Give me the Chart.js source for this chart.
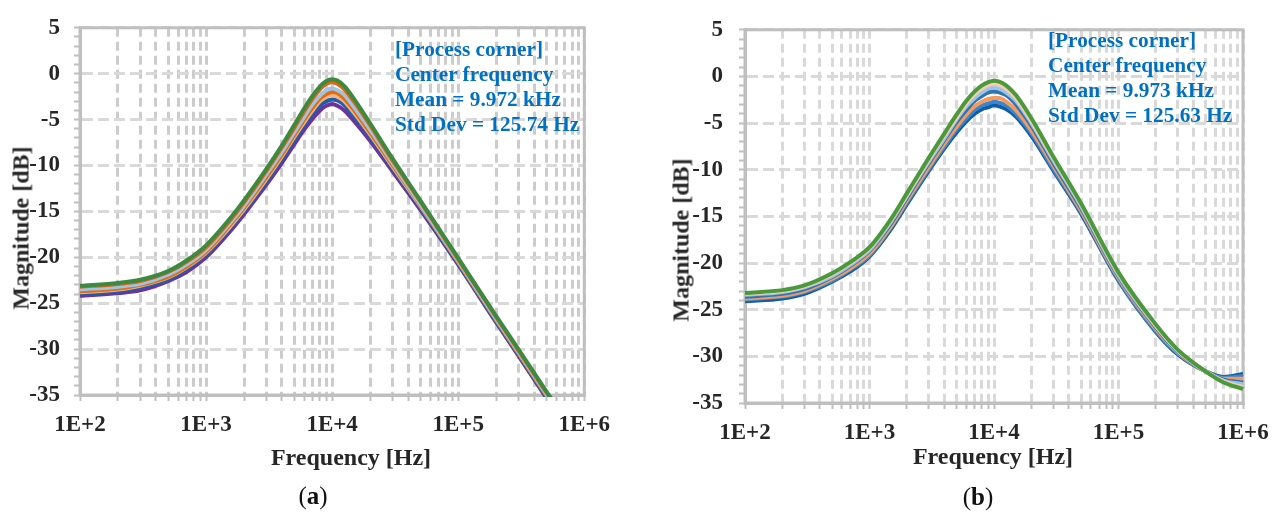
<!DOCTYPE html>
<html>
<head>
<meta charset="utf-8">
<script src="https://cdn.jsdelivr.net/npm/chart.js@4.4.0/dist/chart.umd.min.js"></script>
<style>
  body { margin: 0; background: #fff; width: 1280px; height: 515px; position: relative; overflow: hidden; font-family: 'Liberation Serif', 'Times New Roman', serif; }
  canvas { position: absolute; }
  .note { position: absolute; color: #0070c0; font-weight: bold; font-size: 21.3px; line-height: 25px; white-space: nowrap; }
  .axis-title { position: absolute; font-weight: bold; font-size: 24px; color: #262626; white-space: nowrap; transform: translate(-50%, -50%); }
  .axis-title.vertical { transform: translate(-50%, -50%) rotate(-90deg); }
  .caption { position: absolute; font-size: 25px; color: #111; transform: translate(-50%, -50%); }
</style>
</head>
<body>
<canvas id="chart-a" width="620" height="445" style="left:0;top:0"></canvas>
<canvas id="chart-b" width="630" height="450" style="left:650px;top:0"></canvas>

<div class="note" style="left:395px;top:37px">[Process corner]<br>Center frequency<br>Mean = 9.972 kHz<br>Std Dev = 125.74 Hz</div>
<div class="note" style="left:1048px;top:28px">[Process corner]<br>Center frequency<br>Mean = 9.973 kHz<br>Std Dev = 125.63 Hz</div>

<div class="axis-title vertical" style="left:21px;top:228px">Magnitude [dB]</div>
<div class="axis-title" style="left:351px;top:457px">Frequency [Hz]</div>
<div class="axis-title vertical" style="left:681px;top:240px">Magnitude [dB]</div>
<div class="axis-title" style="left:993px;top:456px">Frequency [Hz]</div>

<div class="caption" style="left:313px;top:496px">(<b>a</b>)</div>
<div class="caption" style="left:978px;top:497px">(<b>b</b>)</div>

<script>
// sweep frequencies (Hz)
const freqHz = [100, 200, 300, 500, 700, 1000, 1500, 2000, 3000, 4000, 5000, 6000, 7000, 8000, 9000,
  10000, 11000, 12500, 15000, 20000, 30000, 50000, 100000, 200000, 300000, 500000, 700000, 1000000];

// axis ticks
const decadeHz = [100, 1000, 10000, 100000, 1000000];
const decadeLabels = ['1E+2', '1E+3', '1E+4', '1E+5', '1E+6'];
const magLabels = [5, 0, -5, -10, -15, -20, -25, -30, -35];

// (a) process corners, magnitude in dB
const magA1 = [-23.1, -22.8, -22.45, -21.5, -20.35, -18.7, -16.0, -13.8, -10.4, -7.8, -5.6, -3.8, -2.4, -1.4, -0.8, -0.6, -0.75, -1.35, -2.8, -5.4, -9.2, -13.8, -20.1, -26.4, -30.0, -34.6, -37.5, -40.6];
const magA2 = [-23.2, -22.9, -22.6, -21.6, -20.5, -18.9, -16.2, -14.0, -10.6, -8.0, -5.9, -4.1, -2.7, -1.7, -1.1, -0.9, -1.1, -1.7, -3.1, -5.6, -9.4, -13.9, -20.2, -26.5, -30.1, -34.7, -37.6, -40.7];
const magA3 = [-23.5, -23.2, -22.9, -21.9, -20.8, -19.2, -16.5, -14.4, -11.0, -8.5, -6.4, -4.7, -3.3, -2.4, -1.8, -1.6, -1.8, -2.3, -3.7, -6.1, -9.7, -14.2, -20.4, -26.7, -30.3, -34.9, -37.8, -40.9];
const magA4 = [-23.7, -23.4, -23.0, -22.1, -21.0, -19.4, -16.7, -14.6, -11.3, -8.8, -6.7, -5.0, -3.7, -2.7, -2.2, -2.0, -2.1, -2.7, -4.0, -6.4, -9.9, -14.3, -20.5, -26.8, -30.4, -35.0, -37.9, -41.0];
const magA5 = [-23.8, -23.5, -23.1, -22.2, -21.1, -19.5, -16.9, -14.8, -11.5, -9.0, -6.9, -5.3, -4.0, -3.0, -2.5, -2.3, -2.5, -3.0, -4.3, -6.6, -10.1, -14.4, -20.5, -26.8, -30.4, -35.0, -37.9, -41.0];
const magA6 = [-24.0, -23.7, -23.3, -22.4, -21.3, -19.7, -17.1, -15.0, -11.8, -9.3, -7.3, -5.6, -4.4, -3.5, -3.0, -2.8, -2.9, -3.4, -4.7, -6.9, -10.3, -14.6, -20.7, -27.0, -30.6, -35.2, -38.1, -41.2];
const magA7 = [-24.2, -23.9, -23.6, -22.6, -21.6, -20.0, -17.4, -15.3, -12.1, -9.7, -7.7, -6.1, -4.9, -4.0, -3.5, -3.3, -3.5, -4.0, -5.2, -7.3, -10.6, -14.8, -20.8, -27.1, -30.7, -35.3, -38.2, -41.3];

// (b) process corners, magnitude in dB
const magB1 = [-23.2, -22.9, -22.4, -21.1, -19.9, -18.3, -15.2, -12.5, -8.7, -6.1, -4.1, -2.6, -1.6, -0.95, -0.6, -0.45, -0.55, -0.95, -2.0, -4.5, -8.6, -13.6, -21.0, -26.6, -29.3, -31.6, -32.8, -33.5];
const magB2 = [-23.3, -23.0, -22.5, -21.2, -20.0, -18.4, -15.3, -12.7, -8.9, -6.3, -4.4, -2.9, -1.9, -1.3, -0.9, -0.8, -0.9, -1.3, -2.3, -4.8, -8.8, -13.7, -21.1, -26.7, -29.4, -31.6, -32.7, -33.3];
const magB3 = [-23.4, -23.1, -22.6, -21.4, -20.2, -18.6, -15.5, -12.8, -9.1, -6.6, -4.6, -3.2, -2.3, -1.7, -1.3, -1.2, -1.3, -1.7, -2.6, -5.0, -9.0, -13.9, -21.3, -26.8, -29.4, -31.6, -32.6, -33.0];
const magB4 = [-23.6, -23.3, -22.8, -21.5, -20.3, -18.7, -15.7, -13.0, -9.3, -6.8, -4.9, -3.6, -2.6, -2.1, -1.7, -1.6, -1.7, -2.0, -3.0, -5.3, -9.3, -14.1, -21.4, -26.9, -29.5, -31.6, -32.5, -32.8];
const magB5 = [-23.8, -23.5, -23.0, -21.7, -20.6, -19.0, -16.0, -13.3, -9.7, -7.2, -5.4, -4.1, -3.2, -2.7, -2.4, -2.3, -2.3, -2.7, -3.6, -5.8, -9.6, -14.4, -21.6, -27.1, -29.6, -31.6, -32.4, -32.4];
const magB6 = [-23.9, -23.6, -23.1, -21.9, -20.7, -19.2, -16.1, -13.5, -9.9, -7.5, -5.7, -4.5, -3.6, -3.1, -2.9, -2.7, -2.8, -3.1, -4.0, -6.1, -9.9, -14.5, -21.8, -27.3, -29.7, -31.6, -32.3, -32.1];
const magB7 = [-24.1, -23.8, -23.3, -22.0, -20.9, -19.3, -16.3, -13.7, -10.1, -7.7, -6.0, -4.8, -4.0, -3.5, -3.3, -3.1, -3.2, -3.5, -4.3, -6.4, -10.1, -14.7, -21.9, -27.4, -29.8, -31.6, -32.2, -31.9];

document.addEventListener('DOMContentLoaded', () => {
    Chart.defaults.font.family = "'Liberation Serif', 'Times New Roman', serif";

    const frameColor = '#bfbfbf';
    const tickFont = { size: 23, weight: 'bold' };

    // grid positions: 1..9 per decade, every 1 dB
    const freqGrid = [];
    decadeHz.forEach((d, i) => {
        for (let k = 1; k <= 9; k++) {
            if (i < decadeHz.length - 1 || k === 1) freqGrid.push(k * d);
        }
    });
    const magGrid = [];
    for (let v = -35; v <= 5; v++) magGrid.push(v);

    // gray box around the plotting area
    const plotFrame = {
        id: 'plotFrame',
        beforeDatasetsDraw(chart) {
            const { ctx, chartArea: a } = chart;
            ctx.save();
            ctx.strokeStyle = frameColor;
            ctx.lineWidth = 3;
            ctx.strokeRect(a.left, a.top, a.right - a.left, a.bottom - a.top);
            ctx.restore();
        }
    };

    const buildChart = (canvasId, series, g) => {
        return new Chart(document.getElementById(canvasId), {
            type: 'line',
            data: {
                datasets: series.map(s => ({
                    label: s.name,
                    data: freqHz.map((f, i) => ({ x: f, y: s.values[i] })),
                    borderColor: s.color,
                    borderWidth: 4,
                    pointRadius: 0,
                    cubicInterpolationMode: 'monotone',
                    fill: false,
                    clip: 2
                }))
            },
            options: {
                responsive: false,
                animation: false,
                events: [],
                layout: { padding: g.padding },
                plugins: { legend: { display: false }, tooltip: { enabled: false } },
                scales: {
                    x: {
                        type: 'logarithmic',
                        min: 100,
                        max: 1000000,
                        afterBuildTicks: s => { s.ticks = freqGrid.map(v => ({ value: v })); },
                        afterFit: s => { s.height = g.xAxisHeight; },
                        ticks: {
                            autoSkip: false,
                            maxRotation: 0,
                            padding: 10,
                            color: '#262626',
                            font: tickFont,
                            callback: v => {
                                const i = decadeHz.indexOf(v);
                                return i >= 0 ? decadeLabels[i] : '';
                            }
                        },
                        grid: { color: g.vGrid, lineWidth: 3, tickLength: 6, tickWidth: 2, tickColor: frameColor },
                        border: { color: frameColor, width: 3, dash: [9, 5] }
                    },
                    y: {
                        min: -35,
                        max: 5,
                        afterBuildTicks: s => { s.ticks = magGrid.map(v => ({ value: v })); },
                        afterFit: s => { s.width = g.yAxisWidth; },
                        ticks: {
                            autoSkip: false,
                            padding: g.yLabelPad,
                            color: '#262626',
                            font: tickFont,
                            callback: v => magLabels.includes(v) ? String(v) : ''
                        },
                        grid: {
                            color: c => (c.tick && magLabels.includes(c.tick.value)) ? g.hGrid : 'rgba(0,0,0,0)',
                            lineWidth: 3,
                            tickLength: 6,
                            tickWidth: 2,
                            tickColor: frameColor
                        },
                        border: { color: frameColor, width: 3, dash: [11, 5] }
                    }
                }
            },
            plugins: [plotFrame]
        });
    };

    buildChart('chart-a', [
        { name: 'corner 1', values: magA1, color: '#3c8a3f' },
        { name: 'corner 2', values: magA2, color: '#e2640f' },
        { name: 'corner 3', values: magA3, color: '#9dc3e6' },
        { name: 'corner 4', values: magA4, color: '#e46c0a' },
        { name: 'corner 5', values: magA5, color: '#f4b183' },
        { name: 'corner 6', values: magA6, color: '#1f5fa6' },
        { name: 'corner 7', values: magA7, color: '#7030a0' }
    ], {
        padding: { top: 27, right: 30, bottom: 0, left: 0 },
        yAxisWidth: 80,
        xAxisHeight: 50,
        yLabelPad: 14,
        vGrid: '#cccccc',
        hGrid: '#d9d9d9'
    });

    buildChart('chart-b', [
        { name: 'corner 1', values: magB1, color: '#4a9a3c' },
        { name: 'corner 2', values: magB2, color: '#f8cbad' },
        { name: 'corner 3', values: magB3, color: '#9dc3e6' },
        { name: 'corner 4', values: magB4, color: '#2e75b6' },
        { name: 'corner 5', values: magB5, color: '#f59a5a' },
        { name: 'corner 6', values: magB6, color: '#3a86cc' },
        { name: 'corner 7', values: magB7, color: '#0f5ca8' }
    ], {
        padding: { top: 18, right: 37, bottom: 0, left: 0 },
        yAxisWidth: 95,
        xAxisHeight: 47,
        yLabelPad: 16,
        vGrid: '#d9d9d9',
        hGrid: '#d9d9d9'
    });
});
</script>
</body>
</html>
